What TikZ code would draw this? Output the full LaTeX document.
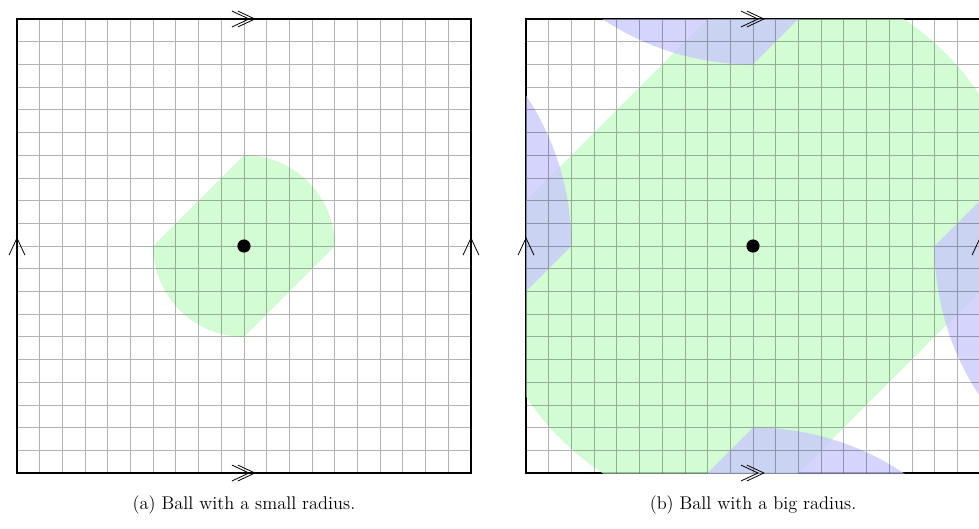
\documentclass[tikz,border=0pt]{standalone}
\definecolor{ballgreen}{RGB}{200,251,200}
\definecolor{ballblue}{RGB}{200,200,251}
\tikzset{
  frame/.style={draw=black, line width=0.7pt},
  gridlines/.style={draw=black, draw opacity=0.3, line width=0.5pt, step={(1,1)}},
  greenfill/.style={fill=ballgreen, fill opacity=0.78},
  bluefill/.style={fill=ballblue, fill opacity=0.78},
  chev/.style={draw=black, line width=0.5pt},
  dot/.style={circle, fill=black, inner sep=0pt, minimum size=0.29cm},
  captiontext/.style={font=\fontsize{11.5}{14}\selectfont}
}
\newcommand\ballr[1]{(#1,0) arc[start angle=0,end angle=90,radius=#1] -- (-#1,0) arc[start angle=180,end angle=270,radius=#1] -- cycle}
\newcommand\edgemarks{%
  \draw[chev] (-0.27,10.35) -- (0.48,10) -- (-0.27,9.65);
  \draw[chev] (-0.53,10.35) -- (0.22,10) -- (-0.53,9.65);
  \draw[chev] (-0.27,-9.65) -- (0.48,-10) -- (-0.27,-10.35);
  \draw[chev] (-0.53,-9.65) -- (0.22,-10) -- (-0.53,-10.35);
  \draw[chev] (-10.35,-0.4) -- (-10,0.35) -- (-9.65,-0.4);
  \draw[chev] (9.65,-0.4) -- (10,0.35) -- (10.35,-0.4);
}
\begin{document}
\begin{tikzpicture}
\useasboundingbox (0,0) rectangle (21.564,11.652);
% panel (a)
\begin{scope}[shift={(5.374,6.233)}, x=0.5cm, y=0.5cm]
  \draw[frame] (-10,-10) rectangle (10,10);
  \fill[greenfill] \ballr{4};
  \draw[gridlines] (-10,-10) grid (10,10);
  \edgemarks
  \node[dot] (ca) at (0,0) {};
\end{scope}
% panel (b)
\begin{scope}[shift={(16.586,6.233)}, x=0.5cm, y=0.5cm]
  \draw[frame] (-10,-10) rectangle (10,10);
  \begin{scope}
    \clip (-10,-10) rectangle (10,10);
    \fill[greenfill] \ballr{12};
    \foreach \dx/\dy in {0/20,0/-20,20/0,-20/0}{
      \fill[bluefill, shift={(\dx,\dy)}] \ballr{12};
    }
  \end{scope}
  \draw[gridlines] (-10,-10) grid (10,10);
  \edgemarks
  \node[dot] (cb) at (0,0) {};
\end{scope}
\node[captiontext] (capa) at (5.374,0.53) {(a) Ball with a small radius.};
\node[captiontext] (capb) at (16.586,0.53) {(b) Ball with a big radius.};
\end{tikzpicture}
\end{document}
